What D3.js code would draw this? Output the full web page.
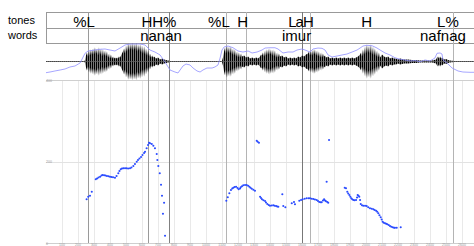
<!DOCTYPE html>
<html>
<head>
<meta charset="utf-8">
<script src="https://cdn.jsdelivr.net/npm/d3@7"></script>
<style>
  body { margin: 0; background: #fff; }
  svg { display: block; font-family: "Liberation Sans", Arial, sans-serif; }
</style>
</head>
<body>
<svg id="chart" width="474" height="246"></svg>
<script>
// tier labels (point tier "tones", interval tier "words"), times in ms
var toneTimes  = [238, 706, 1081, 1229, 1591, 2004, 2512];
var toneLabels = ["%L", "HH%", "%L", "H", "LaH", "H", "L%"];
var wordTimes  = [719, 1566, 2481];
var wordLabels = ["nanan", "imur", "nafnag"];

// boundary lines drawn through every panel
var markTimes  = [263, 639, 771, 1127, 1248, 1598, 1650, 2542];
var markShade  = ["#9a9a9a", "#9a9a9a", "#808080", "#b4b4b4", "#b4b4b4", "#777777", "#b4b4b4", "#b4b4b4"];

// grid / tick marks on the time axis (ms)
var timeTicks  = [100,200,300,400,500,600,700,800,900,1000,1100,1200,1300,1400,1500,1600,1700,1800,1900,2000,2100,2200,2300,2400,2500,2600];
var pitchTicks = [0, 200, 400];

// waveform envelope (ms, amplitude)
var waveT = [0,88,238,244,250,256,263,269,275,281,288,294,300,306,313,319,325,331,338,344,350,356,363,369,375,381,388,394,400,406,413,419,425,431,438,444,450,456,463,469,475,481,488,494,500,506,513,519,525,531,538,544,550,556,563,569,575,581,588,594,600,606,613,619,625,631,638,644,650,656,663,669,675,688,700,713,725,738,750,763,775,788,
  1094,1100,1106,1113,1119,1125,1131,1138,1144,1150,1156,1163,1169,1175,1181,1188,1194,1200,1206,1213,1219,1225,1238,1250,1263,1275,1288,1300,1313,1325,1338,1344,1350,1356,1363,1369,1375,1381,1388,1394,1400,1406,1413,1419,1425,1431,1438,1444,1450,1456,1463,1475,1488,1500,1513,1525,1538,1550,1563,1575,1588,1600,1613,1625,1638,1644,1650,1656,1663,1669,1675,1681,1688,1694,1700,1706,1713,1719,1725,1731,1738,1744,1750,1763,1775,1788,1800,1813,1825,1838,1850,1863,1875,1888,1900,1913,1925,1938,1950,1963,1969,1975,1981,1988,1994,2000,2006,2013,2019,2025,2031,2038,2044,2050,2056,2063,2069,2075,2081,2088,2100,2113,2125,2138,2150,2163,2175,2188,2200,2213,2238,2263,2288,2313,2338,2363,2388,2413,2425,2438,2444,2450,2456,2463,2469,2475,2488,2500,2513,2525,2550,2588,2675];
var waveA = [0.4,0.4,0.5,1,6,9,5,11,6,12,7,13,7,14,8,13,6,14,7,13,5,12,6,11,5,10,4,8,3,7,3,5,3,4,3,4,3,5,4,6,8,10,13,8,16,10,18,11,18,12,18.5,11,18,12,18.5,10,17,11,17,9,16,8,15,7,13,6,11,5,8,4,6,4,5,3,4,2,3,2,1.5,1,0.5,0.4,
  0.4,0.5,4,10,14,8,16,9,15,8,15,7,13,6,12,5,10,4,9,4,8,5,6,4,5,3,4,3,4,3,5,7,6,9,5,11,6,12,7,13,7,12,6,12,5,11,4,9,4,8,5,6,4,5,3,4,3,4,3,5,4,6,5,7,8,10,6,11,6,12,7,12,6,11,5,10,4,9,4,8,5,6,4,5,3,4,3,4,3,4,3,4,3,4,3,4,3,4,5,7,9,5,12,7,15,8,17,9,16,8,17,7,15,6,13,5,11,4,9,4,7,5,4,5,3,4,3,3,2,3,2,2,1.5,1.5,1,1,1,1,1.5,2,4,5,3,5,3,4,2,2.5,1.5,1,0.6,0.4,0.4];

// intensity contour (ms, dB)
var intT = [0,25,56,88,119,150,181,213,244,263,306,338,369,400,431,463,494,525,588,619,650,681,713,744,775,806,825,838,856,875,900,919,944,963,981,1006,1038,1056,1075,1088,1100,1113,1138,1169,1200,1231,1263,1288,1319,1350,1369,1400,1431,1450,1481,1513,1544,1569,1600,1619,1650,1669,1700,1725,1744,1763,1788,1819,1850,1881,1913,1944,1963,1981,2006,2038,2069,2088,2119,2150,2181,2213,2244,2275,2306,2338,2369,2400,2431,2444,2463,2475,2481,2506,2538,2575,2606,2650,2675];
var intDb = [39.9,40.8,42.2,43.5,44.9,47.6,48.9,53.0,66.1,69.2,70.5,71.5,71.9,70.5,69.2,73.2,77.3,78.6,78.6,77.3,70.5,67.8,63.8,54.3,43.5,40.8,39.5,43.5,48.9,51.6,50.3,46.2,42.2,40.8,43.5,46.2,46.2,47.6,50.3,59.7,70.5,74.6,75.9,73.6,69.2,67.8,69.2,66.5,67.8,70.5,73.2,73.6,73.6,71.9,66.5,67.8,67.8,70.5,71.9,70.5,67.8,71.9,73.2,72.8,70.5,63.8,61.1,62.4,63.8,65.1,67.8,70.5,73.2,75.9,76.9,76.3,73.2,70.5,66.5,63.8,60.1,58.0,57.0,55.7,56.3,54.7,57.0,55.7,59.7,66.1,66.5,65.1,57.0,53.0,46.2,42.2,40.8,40.4,40.4];

// pitch points (ms, Hz)
var pitchT = [254,264,275,286,311,319,328,338,347,354,363,372,381,391,400,409,419,431,441,452,459,467,475,484,494,503,513,525,534,546,556,567,575,584,594,603,613,619,629,638,644,650,661,671,681,692,696,702,711,719,725,731,738,744,
  1127,1136,1146,1156,1164,1171,1179,1188,1197,1204,1213,1217,1225,1233,1244,1254,1263,1271,1278,1286,1296,1306,1317,1323,1331,1338,1344,1350,1359,1369,1375,1383,1392,1400,1411,1421,1429,1438,1445,1452,1477,1483,1496,1536,1550,1556,
  1583,1594,1604,1617,1629,1641,1650,1661,1671,1681,1692,1700,1708,1716,1723,1731,1738,1744,1750,1754,1758,1764,1769,
  1867,1875,1883,1889,1896,1902,1908,1914,1921,1929,1938,1944,1948,1953,1958,1963,1967,1975,1983,1994,2004,2014,2025,2036,2046,2054,2063,2070,2077,2084,2092,2098,2104,2111,2119,2126,2133,2142,2150,2158,2167,2175,2181,2192,2217];
var pitchHz = [107.2,113.6,116.1,125.9,156.3,158.3,160.7,162.7,165.6,166.9,166.1,165.6,164.4,163.7,162.7,162.0,161.2,160.2,164.4,171.0,176.7,180.9,182.8,183.3,183.3,183.3,182.8,183.3,185.3,189.0,193.9,199.5,203.7,207.4,211.0,216.0,220.9,224.1,232.4,240.5,246.1,244.7,242.9,238.8,232.4,218.4,203.7,189.0,171.0,143.1,116.1,71.9,98.9,17.9,
  103.8,112.1,122.0,130.1,133.7,135.7,137.4,138.2,135.0,131.8,133.7,136.7,139.4,141.6,142.3,142.3,140.6,138.2,135.7,133.3,130.8,128.3,251.0,248.6,246.1,113.6,110.4,107.2,104.8,103.1,99.4,95.7,93.3,91.5,92.0,92.5,91.5,90.8,89.6,89.1,119.5,90.8,87.6,97.4,100.6,95.0,
  103.8,105.5,107.2,108.7,109.7,109.7,109.7,108.7,108.0,106.7,105.5,103.1,100.6,99.9,99.9,104.3,107.2,104.3,102.3,150.4,100.6,98.9,252.8,
  135.7,134.2,125.9,121.5,117.8,113.6,109.7,107.2,105.5,104.8,105.5,111.7,117.8,116.1,113.6,105.5,95.7,92.8,91.5,91.3,90.8,87.9,85.2,83.9,82.7,81.0,79.3,76.6,72.9,68.2,63.1,57.7,52.3,49.8,48.3,47.1,45.9,44.2,41.7,40.0,38.5,37.5,37.5,37.5,38.5];

var width = 474, left = 46;
var tierTop = 12, tierMid = 28, tierBot = 43;
var waveTop = 43, waveBot = 80;
var pitchTop = 80, pitchBot = 243;

var svg = d3.select("#chart");

var x = d3.scaleLinear().domain([0, 2675]).range([left, width]);
var yWave = d3.scaleLinear().domain([-20, 20]).range([waveBot + 1.5, waveTop - 1.5]);
var yInt = d3.scaleLinear().domain([30, 80]).range([waveBot, waveTop]);
var yPitch = d3.scaleLinear().domain([0, 400]).range([pitchBot, pitchTop]);

// waveform texture
var defs = svg.append("defs");
var pat = defs.append("pattern")
    .attr("id", "wav")
    .attr("patternUnits", "userSpaceOnUse")
    .attr("width", 2).attr("height", 4);
pat.append("rect").attr("width", 1).attr("height", 4).attr("fill", "#000");
pat.append("rect").attr("x", 1).attr("width", 1).attr("height", 4).attr("fill", "#777");

// pitch grid
svg.append("g")
  .selectAll("line")
  .data(timeTicks)
  .enter().append("line")
    .attr("x1", function(d) { return x(d) + 0.5; })
    .attr("x2", function(d) { return x(d) + 0.5; })
    .attr("y1", pitchTop)
    .attr("y2", pitchBot)
    .style("stroke", "#e9e9e9")
    .style("stroke-width", 1);

svg.append("g")
  .selectAll("line")
  .data(pitchTicks)
  .enter().append("line")
    .attr("x1", left)
    .attr("x2", width)
    .attr("y1", function(d) { return Math.round(yPitch(d)) + 0.5; })
    .attr("y2", function(d) { return Math.round(yPitch(d)) + 0.5; })
    .style("stroke", function(d, i) { return i == 1 ? "#e2e2e2" : "#cfcfcf"; })
    .style("stroke-width", 1);

// tiny axis numbers
svg.append("g")
  .selectAll("text")
  .data(timeTicks)
  .enter().append("text")
    .attr("x", function(d) { return x(d); })
    .attr("y", 246)
    .attr("text-anchor", "middle")
    .style("font-size", "3.5px")
    .style("fill", "#999")
    .text(function(d) { return d; });

svg.append("g")
  .selectAll("text")
  .data(pitchTicks)
  .enter().append("text")
    .attr("x", left)
    .attr("y", function(d) { return yPitch(d) + 1.5; })
    .style("font-size", "3.5px")
    .style("fill", "#999")
    .text(function(d) { return d; });

// tier frame
[tierTop, tierMid, tierBot].forEach(function(yy) {
  svg.append("line")
    .attr("x1", left).attr("x2", width)
    .attr("y1", yy + 0.5).attr("y2", yy + 0.5)
    .style("stroke", "#999").style("stroke-width", 1);
});
svg.append("line")
  .attr("x1", left + 0.5).attr("x2", left + 0.5)
  .attr("y1", tierTop).attr("y2", tierBot)
  .style("stroke", "#999").style("stroke-width", 1);

// boundaries
svg.append("g")
  .selectAll("line")
  .data(markTimes)
  .enter().append("line")
    .attr("x1", function(d) { return Math.round(x(d)) + 0.5; })
    .attr("x2", function(d) { return Math.round(x(d)) + 0.5; })
    .attr("y1", tierTop)
    .attr("y2", pitchBot)
    .style("stroke", function(d, i) { return markShade[i]; })
    .style("stroke-width", 1);

// waveform
var wave = waveT.map(function(t, i) { return [t, waveA[i]]; });
svg.append("path")
  .datum(wave)
  .attr("d", d3.area()
    .x(function(d) { return x(d[0]); })
    .y0(function(d) { return yWave(-d[1]); })
    .y1(function(d) { return yWave(d[1]); }))
  .style("fill", "url(#wav)");

svg.append("line")
  .attr("x1", left).attr("x2", width)
  .attr("y1", yWave(0)).attr("y2", yWave(0))
  .style("stroke", "#666").style("stroke-width", 0.7);

// intensity
var inten = intT.map(function(t, i) { return [t, intDb[i]]; });
svg.append("path")
  .datum(inten)
  .attr("d", d3.line()
    .x(function(d) { return x(d[0]); })
    .y(function(d) { return yInt(d[1]); }))
  .style("fill", "none")
  .style("stroke", "#8f8fff")
  .style("stroke-width", 0.8);

// pitch
var pitch = pitchT.map(function(t, i) { return [t, pitchHz[i]]; });
svg.append("g")
  .selectAll("circle")
  .data(pitch)
  .enter().append("circle")
    .attr("cx", function(d) { return x(d[0]); })
    .attr("cy", function(d) { return yPitch(d[1]); })
    .attr("r", 1.05)
    .attr("fill", "#2a4bff");

// tier names
svg.append("text").attr("x", 8).attr("y", 24).style("font-size", "11px").text("tones");
svg.append("text").attr("x", 8).attr("y", 39).style("font-size", "11px").text("words");

svg.append("g")
  .selectAll("text")
  .data(toneTimes)
  .enter().append("text")
    .attr("x", function(d) { return x(d); })
    .attr("y", 26.5)
    .attr("text-anchor", "middle")
    .style("font-size", "15px")
    .style("letter-spacing", function(d, i) { return toneLabels[i] == "LaH" ? "-1px" : null; })
    .text(function(d, i) { return toneLabels[i]; });

svg.append("g")
  .selectAll("text")
  .data(wordTimes)
  .enter().append("text")
    .attr("x", function(d) { return x(d); })
    .attr("y", 41)
    .attr("text-anchor", "middle")
    .style("font-size", "15px")
    .text(function(d, i) { return wordLabels[i]; });
</script>
</body>
</html>
